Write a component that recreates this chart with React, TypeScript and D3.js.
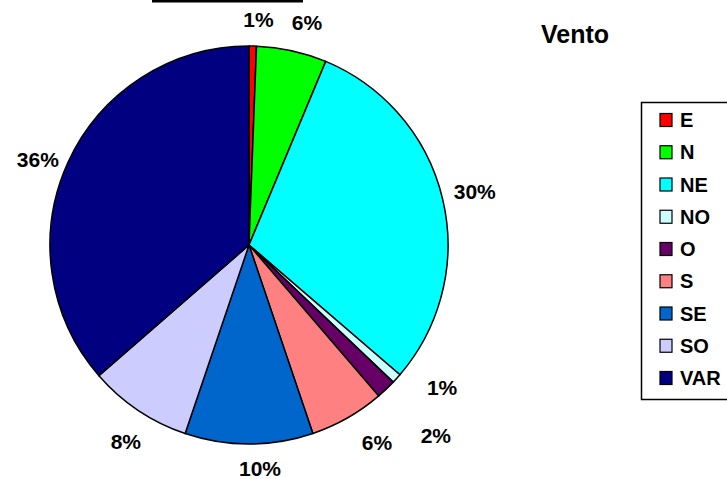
import { useEffect, useRef } from "react";
import * as d3 from "d3";

// wind direction shares (percent)
const categories = ["E", "N", "NE", "NO", "O", "S", "SE", "SO", "VAR"];
const values = [0.6, 5.7, 30.0, 0.8, 1.6, 6.1, 10.4, 8.4, 36.4];
const colors = ["#FF0000", "#00FF00", "#00FFFF", "#CCFFFF", "#660066", "#FF8080", "#0066CC", "#CCCCFF", "#000080"];
const title = "Vento";

// hand-tuned label shifts, like Excel's label placement
const labelNudge: Record<string, [number, number]> = {
  E: [5, 6], N: [8, 4], NE: [0, 0], NO: [21, -13], O: [27, 22],
  S: [13, -4], SE: [11, -9], SO: [6, 4], VAR: [0, 11],
};

const W = 727;
const H = 479;
const FONT = "'Liberation Sans', Arial, sans-serif";

export default function App() {
  const ref = useRef<SVGSVGElement>(null);

  useEffect(() => {
    if (!ref.current) return;
    const svg = d3.select(ref.current);
    svg.selectAll("*").remove();

    const cx = 249, cy = 245, r = 199, labelR = 232;
    const total = d3.sum(values);

    svg.append("rect").attr("width", W).attr("height", H).attr("fill", "#fff");

    // clipped border line at the very top
    svg.append("rect").attr("x", 152).attr("y", 0).attr("width", 151).attr("height", 2.5).attr("fill", "#000");

    const pie = d3.pie<number>().sort(null).value((d) => d);
    const arcs = pie(values);
    const arc = d3.arc<d3.PieArcDatum<number>>().innerRadius(0).outerRadius(r);

    const g = svg.append("g").attr("transform", `translate(${cx},${cy})`);
    g.selectAll("path")
      .data(arcs)
      .join("path")
      .attr("d", arc)
      .attr("fill", (_, i) => colors[i])
      .attr("stroke", "#000")
      .attr("stroke-width", 1.5)
      .attr("stroke-linejoin", "round");

    g.selectAll("text.pct")
      .data(arcs)
      .join("text")
      .attr("class", "pct")
      .attr("x", (d, i) => {
        const a = (d.startAngle + d.endAngle) / 2;
        return labelR * Math.sin(a) + labelNudge[categories[i]][0];
      })
      .attr("y", (d, i) => {
        const a = (d.startAngle + d.endAngle) / 2;
        return -labelR * Math.cos(a) + labelNudge[categories[i]][1];
      })
      .attr("text-anchor", "middle")
      .attr("dominant-baseline", "central")
      .attr("font-family", FONT)
      .attr("font-weight", "bold")
      .attr("font-size", 21)
      .attr("fill", "#000")
      .text((d) => `${Math.round((d.value / total) * 100)}%`);

    // title
    svg.append("text")
      .attr("x", 575).attr("y", 43)
      .attr("text-anchor", "middle")
      .attr("font-family", FONT)
      .attr("font-weight", "bold")
      .attr("font-size", 25)
      .text(title);

    // legend
    const legend = svg.append("g");
    legend.append("rect")
      .attr("x", 641.5).attr("y", 102.5)
      .attr("width", 120).attr("height", 297)
      .attr("fill", "#fff").attr("stroke", "#000").attr("stroke-width", 1.5);

    const y = d3.scaleLinear().domain([0, categories.length - 1]).range([120, 378]);
    const item = legend.selectAll("g.item")
      .data(categories)
      .join("g")
      .attr("class", "item")
      .attr("transform", (_, i) => `translate(0,${y(i)})`);
    item.append("rect")
      .attr("x", 660).attr("y", -6.5)
      .attr("width", 12).attr("height", 13)
      .attr("fill", (_, i) => colors[i])
      .attr("stroke", "#000").attr("stroke-width", 1.2);
    item.append("text")
      .attr("x", 680).attr("y", 0)
      .attr("dominant-baseline", "central")
      .attr("font-family", FONT)
      .attr("font-weight", "bold")
      .attr("font-size", 20)
      .text((d) => d);
  }, []);

  return (
    <svg
      ref={ref}
      width={W}
      height={H}
      style={{ position: "absolute", left: 0, top: 0, display: "block" }}
    />
  );
}
